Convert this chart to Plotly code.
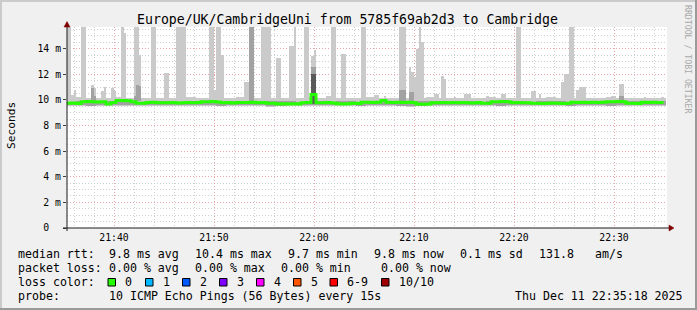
import plotly.graph_objects as go
from datetime import datetime, timedelta

# ---------------- data ----------------
T_LEFT = datetime(2025, 12, 11, 21, 35, 18)
T_RIGHT = datetime(2025, 12, 11, 22, 35, 18)
T_DATA0 = datetime(2025, 12, 11, 21, 35, 12)
STEP_S = 15

# median rtt (ms), one value per 30 s
median_30s = [9.74, 9.76, 9.73, 9.86, 9.88, 9.87, 9.85, 9.87, 9.69, 9.80,
              9.95, 9.96, 9.94, 9.87, 9.74, 9.75, 9.80, 9.82, 9.79,
              9.79, 9.78, 9.80, 9.76, 9.79, 9.81, 9.78, 9.80,
              9.87, 9.86, 9.88, 9.85,
              9.79, 9.80, 9.77, 9.80,
              9.81, 9.80, 9.82, 9.79, 9.80,
              9.75, 9.74,
              9.69, 9.70, 9.68, 9.70, 9.69,
              9.79, 9.80,
              10.42,
              9.79, 9.78, 9.80, 9.77,
              9.70, 9.69, 9.70,
              9.74, 9.73,
              9.82, 9.83, 9.81, 9.82, 9.95,
              9.82, 9.80, 9.83, 9.81, 9.82, 9.80,
              9.69, 9.66, 9.68,
              9.79, 9.78, 9.80, 9.79, 9.81, 9.78, 9.80, 9.79, 9.77, 9.80,
              9.75, 9.74,
              9.87, 9.86, 9.88, 9.87,
              9.79, 9.80, 9.78, 9.79,
              9.74, 9.75, 9.73, 9.74, 9.76, 9.74, 9.73, 9.75,
              9.82, 9.81, 9.83, 9.80, 9.82, 9.81, 9.82,
              9.87, 9.86, 9.88, 9.86,
              9.74, 9.75, 9.73,
              9.82, 9.80, 9.83, 9.81, 9.80]

# smoke envelope per minute (ms)
band_hi = [10.15, 10.20, 10.15, 10.12, 10.18, 10.20, 10.15, 10.12, 10.15, 10.18,
           10.15, 10.12, 10.20, 10.15, 10.18, 10.12, 10.15, 10.20, 10.15, 10.12,
           10.15, 10.18, 10.15, 10.12, 10.20, 10.15, 10.12, 10.18, 10.15, 10.12,
           10.20, 10.15, 10.18, 10.15, 10.12, 10.15, 10.20, 10.15, 10.12, 10.18,
           10.15, 10.12, 10.20, 10.15, 10.18, 10.15, 10.12, 10.15, 10.20, 10.15,
           10.12, 10.18, 10.15, 10.12, 10.20, 10.15, 10.18, 10.15, 10.12, 10.15]
band_lo = [9.52, 9.55, 9.50, 9.54, 9.52, 9.56, 9.50, 9.53, 9.55, 9.52,
           9.50, 9.54, 9.52, 9.55, 9.53, 9.50, 9.52, 9.55, 9.50, 9.53,
           9.48, 9.50, 9.52, 9.55, 9.53, 9.50, 9.54, 9.52, 9.55, 9.50,
           9.53, 9.52, 9.55, 9.50, 9.48, 9.50, 9.54, 9.52, 9.55, 9.53,
           9.50, 9.52, 9.55, 9.50, 9.53, 9.52, 9.50, 9.54, 9.52, 9.55,
           9.50, 9.53, 9.52, 9.55, 9.50, 9.53, 9.52, 9.55, 9.50, 9.53]
band_mid_lo = [9.58, 9.60, 9.56, 9.60, 9.58, 9.62, 9.57, 9.60, 9.61, 9.58,
               9.57, 9.60, 9.58, 9.61, 9.59, 9.56, 9.58, 9.60, 9.57, 9.59,
               9.55, 9.56, 9.58, 9.61, 9.59, 9.57, 9.60, 9.58, 9.61, 9.56,
               9.59, 9.58, 9.61, 9.56, 9.55, 9.56, 9.60, 9.58, 9.61, 9.59,
               9.57, 9.58, 9.61, 9.56, 9.59, 9.58, 9.57, 9.60, 9.58, 9.61,
               9.56, 9.59, 9.58, 9.61, 9.56, 9.59, 9.58, 9.61, 9.57, 9.59]
band_mid_hi = [9.88, 9.92, 9.90, 9.88, 9.95, 9.98, 9.90, 9.88, 9.90, 9.92,
               9.90, 9.88, 9.92, 9.90, 9.93, 9.88, 9.90, 9.92, 9.90, 9.88,
               9.90, 9.92, 9.90, 9.88, 9.92, 9.90, 9.88, 9.92, 9.90, 9.88,
               9.92, 9.90, 9.92, 9.90, 9.88, 9.90, 9.92, 9.90, 9.88, 9.92,
               9.90, 9.88, 9.92, 9.90, 9.92, 9.90, 9.88, 9.90, 9.92, 9.90,
               9.88, 9.92, 9.90, 9.88, 9.92, 9.90, 9.92, 9.90, 9.88, 9.90]

# smoke spikes: first 15 s step, number of steps, max ping, 2nd shade top, dark top
spike_step = [0, 2, 3, 6, 10, 11, 14, 15, 18, 19, 22, 23, 27, 28, 29, 34, 39, 44,
              57, 59, 60, 62, 71, 73, 78, 84, 89, 91, 95, 98, 99, 104, 106, 110,
              118, 123, 127, 133, 137, 138, 139, 140, 141, 142, 147, 150, 151, 155,
              159, 168, 174, 180, 186, 189, 198, 199, 201, 204, 205, 218, 221, 231, 238]
spike_len = [2, 1, 1, 2, 1, 1, 1, 1, 1, 1, 1, 1, 1, 1, 1, 2, 2, 4,
             2, 1, 2, 1, 2, 2, 4, 2, 2, 1, 2, 1, 1, 2, 2, 2,
             2, 2, 1, 3, 1, 1, 1, 1, 1, 1, 2, 1, 1, 1,
             3, 1, 2, 2, 2, 1, 1, 2, 2, 1, 3, 2, 2, 1, 1]
spike_top = [16, 10.4, 10.8, 16, 11.2, 10.9, 10.7, 11.0, 10.9, 10.7, 16, 15.2, 16, 16, 13.5, 16, 12.1, 16,
             16, 10.8, 16, 13.5, 11.4, 16, 16, 13.3, 14.2, 16, 16, 13.4, 13.9, 10.3, 16, 13.6,
             16, 10.4, 10.3, 16, 12.6, 12.2, 11.8, 14.0, 16, 14.5, 10.5, 11.9, 11.6, 10.2,
             10.45, 10.3, 10.45, 16, 10.7, 10.5, 11.4, 12.0, 16, 10.8, 11.0, 10.3, 11.25, 10.2, 10.2]
spike_mid = [0, 0, 0, 0, 10.9, 10.3, 0, 0, 0, 0, 0, 0, 10.3, 11.2, 11.1, 0, 0, 0,
             0, 0, 0, 0, 0, 16, 0, 0, 0, 0, 0, 12.6, 12.6, 0, 0, 0,
             0, 0, 0, 10.8, 10.6, 10.6, 0, 0, 0, 0, 0, 0, 0, 0,
             0, 0, 0, 0, 0, 0, 0, 0, 0, 0, 0, 0, 10.3, 0, 0]
spike_dark = [0, 0, 0, 0, 0, 0, 0, 0, 0, 0, 0, 0, 0, 0, 0, 0, 0, 0,
              0, 0, 0, 0, 0, 0, 0, 0, 0, 0, 0, 12.0, 12.0, 0, 0, 0,
              0, 0, 0, 0, 0, 0, 0, 0, 0, 0, 0, 0, 0, 0,
              0, 0, 0, 0, 0, 0, 0, 0, 0, 0, 0, 0, 0, 0, 0]

y_tick_vals = [0, 2, 4, 6, 8, 10, 12, 14]
y_tick_text = ["0\u00a0\u00a0", "2 m", "4 m", "6 m", "8 m", "10 m", "12 m", "14 m"]

loss_labels = ["0", "1", "2", "3", "4", "5", "6-9", "10/10"]
loss_colors = ["#26ff00", "#00b8ff", "#0059ff", "#7e00ff", "#ff00ff", "#ff5500", "#ff0000", "#a00000"]

title_text = "Europe/UK/CambridgeUni from 5785f69ab2d3 to Cambridge"
legend_rows = [
    [(16, "median rtt:"), (107, "9.8 ms avg"), (193, "10.4 ms max"), (286, "9.7 ms min"),
     (372, "9.8 ms now"), (458, "0.1 ms sd"), (537, "131.8"), (593, "am/s")],
    [(16, "packet loss:"), (107, "0.00 % avg"), (193, "0.00 % max"), (279, "0.00 % min"),
     (379, "0.00 % now")],
    [(16, "loss color:")],
    [(16, "probe:"), (107, "10 ICMP Echo Pings (56 Bytes) every 15s"),
     (513, "Thu Dec 11 22:35:18 2025")],
]
legend_row_y = [254, 268, 282, 296]
loss_box_x = [108, 145.5, 182.5, 219.5, 256.5, 293.5, 330, 381.5]

# ---------------- layout geometry ----------------
W, H = 697, 310
ML, MR, MT, MB = 67, 30, 27, 82
PW, PH = W - ML - MR, H - MT - MB
MONO = "DejaVu Sans Mono"
LIGHT, MEDIUM, DARK = "#cacaca", "#a2a2a2", "#5a5a5a"


def px(x):
    return (x - ML) / PW


def py(y):
    return (H - MB - y) / PH


def t(k):
    return T_DATA0 + timedelta(seconds=STEP_S * k)


fig = go.Figure()

# background smoke band (per minute)
fig.add_trace(go.Bar(
    x=[t(4 * m + 2) for m in range(len(band_hi))],
    base=band_lo, y=[h - l for h, l in zip(band_hi, band_lo)],
    width=60000, marker=dict(color=LIGHT, line=dict(width=0)),
    showlegend=False, hoverinfo="skip"))

# light spikes
SPIKE_BASE = 9.9
fig.add_trace(go.Bar(
    x=[t(k + n / 2) for k, n in zip(spike_step, spike_len)],
    base=[SPIKE_BASE] * len(spike_step),
    y=[v - SPIKE_BASE for v in spike_top],
    width=[n * STEP_S * 1000 for n in spike_len],
    marker=dict(color=LIGHT, line=dict(width=0)),
    showlegend=False, hoverinfo="skip"))

# medium band
fig.add_trace(go.Bar(
    x=[t(4 * m + 2) for m in range(len(band_mid_hi))],
    base=band_mid_lo, y=[h - l for h, l in zip(band_mid_hi, band_mid_lo)],
    width=60000, marker=dict(color=MEDIUM, line=dict(width=0)),
    showlegend=False, hoverinfo="skip"))

# medium spikes
mk = [(k, n, v) for k, n, v in zip(spike_step, spike_len, spike_mid) if v > 0]
fig.add_trace(go.Bar(
    x=[t(k + n / 2) for k, n, v in mk],
    base=[SPIKE_BASE] * len(mk),
    y=[v - SPIKE_BASE for k, n, v in mk],
    width=[n * STEP_S * 1000 for k, n, v in mk],
    marker=dict(color=MEDIUM, line=dict(width=0)),
    showlegend=False, hoverinfo="skip"))

# dark spikes
dk = [(k, n, v) for k, n, v in zip(spike_step, spike_len, spike_dark) if v > 0]
fig.add_trace(go.Bar(
    x=[t(k + n / 2) for k, n, v in dk],
    base=[9.7] * len(dk),
    y=[v - 9.7 for k, n, v in dk],
    width=[n * STEP_S * 1000 for k, n, v in dk],
    marker=dict(color=DARK, line=dict(width=0)),
    showlegend=False, hoverinfo="skip"))

# median line
mx = [t(2 * j) for j in range(len(median_30s))] + [t(2 * len(median_30s) - 1)]
my = median_30s + [median_30s[-1]]
fig.add_trace(go.Scatter(
    x=mx, y=my, mode="lines", line=dict(color="#26ff00", width=3, shape="hv"),
    showlegend=False, hoverinfo="skip"))

MAJOR = "#e8a4a4"
MINOR = "#cfcfcf"

fig.update_layout(
    width=W, height=H,
    margin=dict(l=ML, r=MR, t=MT, b=MB, pad=0),
    paper_bgcolor="#f0f0f0", plot_bgcolor="#ffffff",
    barmode="overlay", bargap=0,
    font=dict(family=MONO, color="#000000"),
    title=dict(text=title_text, x=347.5 / W, xanchor="center", xref="container",
               y=1 - 19.5 / H, yanchor="middle", yref="container",
               font=dict(family=MONO, size=13.2, color="#000000")),
    xaxis=dict(
        type="date", range=[T_LEFT, T_RIGHT],
        tick0="2025-12-11 21:40:00", dtick=600000, tickformat="%H:%M",
        showgrid=True, gridcolor=MAJOR, griddash="1px,2px", gridwidth=1,
        minor=dict(tick0="2025-12-11 21:40:00", dtick=120000, showgrid=True,
                   gridcolor=MINOR, griddash="1px,2px", gridwidth=1),
        ticks="", showline=False, zeroline=False,
        tickfont=dict(family=MONO, size=9.8, color="#000000"),
        ticklabelstandoff=2,
    ),
    yaxis=dict(
        range=[0, 15.7], tickvals=y_tick_vals, ticktext=y_tick_text,
        showgrid=True, gridcolor=MAJOR, griddash="1px,2px", gridwidth=1,
        minor=dict(dtick=0.5, showgrid=True, gridcolor=MINOR, griddash="1px,2px", gridwidth=1),
        ticks="outside", ticklen=3, tickcolor="#404040", tickwidth=1,
        showline=False, zeroline=False,
        tickfont=dict(family=MONO, size=9.8, color="#000000"),
    ),
)

shapes = []
# axes
shapes.append(dict(type="line", xref="paper", yref="paper", x0=px(63), x1=px(670), y0=0, y1=0,
                   line=dict(color="#1a1a1a", width=1)))
shapes.append(dict(type="line", xref="paper", yref="paper", x0=0, x1=0, y0=py(231), y1=py(24),
                   line=dict(color="#1a1a1a", width=1)))
# arrows
shapes.append(dict(type="path", xref="paper", yref="paper",
                   path=f"M {px(669)} {py(225)} L {px(674)} {py(228)} L {px(669)} {py(231)} Z",
                   fillcolor="#7f0000", line=dict(color="#7f0000", width=0.5)))
shapes.append(dict(type="path", xref="paper", yref="paper",
                   path=f"M {px(64)} {py(27)} L {px(67)} {py(21.5)} L {px(70)} {py(27)} Z",
                   fillcolor="#7f0000", line=dict(color="#7f0000", width=0.5)))
# frame shading
shapes.append(dict(type="rect", xref="paper", yref="paper", x0=px(0), x1=px(W), y0=py(H), y1=py(H - 2),
                   fillcolor="#9a9a9a", line=dict(width=0)))
shapes.append(dict(type="rect", xref="paper", yref="paper", x0=px(W - 2), x1=px(W), y0=py(H), y1=py(0),
                   fillcolor="#9a9a9a", line=dict(width=0)))
shapes.append(dict(type="rect", xref="paper", yref="paper", x0=px(0), x1=px(W - 2), y0=py(2), y1=py(0),
                   fillcolor="#cbcbcb", line=dict(width=0)))
shapes.append(dict(type="rect", xref="paper", yref="paper", x0=px(0), x1=px(2), y0=py(H - 2), y1=py(0),
                   fillcolor="#cbcbcb", line=dict(width=0)))
# loss colour boxes
for bx, col in zip(loss_box_x, loss_colors):
    shapes.append(dict(type="rect", xref="paper", yref="paper",
                       x0=px(bx), x1=px(bx + 7.5), y0=py(286), y1=py(278.5),
                       fillcolor=col, line=dict(color="#000000", width=1)))

annotations = []
for row, yy in zip(legend_rows, legend_row_y):
    for xx, txt in row:
        annotations.append(dict(text=txt, xref="paper", yref="paper", x=px(xx), y=py(yy),
                                xanchor="left", yanchor="middle", showarrow=False,
                                font=dict(family=MONO, size=11.6, color="#000000")))
for bx, lab in zip(loss_box_x, loss_labels):
    annotations.append(dict(text=lab, xref="paper", yref="paper", x=px(bx + 15), y=py(282),
                            xanchor="left", yanchor="middle", showarrow=False,
                            font=dict(family=MONO, size=11.6, color="#000000")))
annotations.append(dict(text="Seconds", xref="paper", yref="paper", x=px(11), y=py(126),
                        xanchor="center", yanchor="middle", textangle=-90, showarrow=False,
                        font=dict(family=MONO, size=11.2, color="#000000")))
annotations.append(dict(text="RRDTOOL / TOBI OETIKER", xref="paper", yref="paper", x=px(688), y=py(59),
                        xanchor="center", yanchor="middle", textangle=90, showarrow=False,
                        font=dict(family=MONO, size=8.2, color="#a8a8a8")))

fig.update_layout(shapes=shapes, annotations=annotations)
fig.write_html("out.html")
